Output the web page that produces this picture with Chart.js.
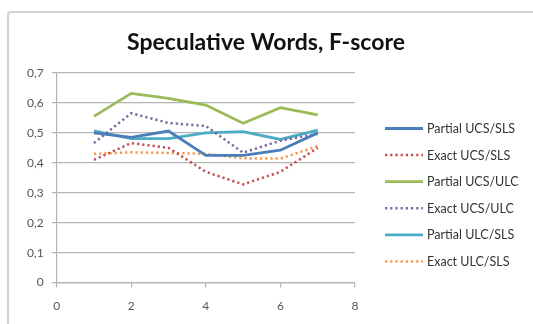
<!DOCTYPE html>
<html>
<head>
<meta charset="utf-8">
<script src="https://cdn.jsdelivr.net/npm/chart.js@4"></script>
<style>
  html, body { margin: 0; padding: 0; background: #fff; }
  #wrap { position: relative; width: 533px; height: 324px; overflow: hidden; }
  #frame { position: absolute; left: 7px; top: 11px; width: 600px; height: 400px;
           border: 2px solid #d4d4d4; border-radius: 4px; box-sizing: border-box; }
  canvas { position: absolute; left: 0; top: 0; }
</style>
</head>
<body>
<div id="wrap">
  <div id="frame"></div>
  <canvas id="c" width="533" height="324"></canvas>
</div>
<script>
const titleText = 'Speculative Words, F-score';
const xValues = [1, 2, 3, 4, 5, 6, 7];
const seriesNames = ['Partial UCS/SLS', 'Exact UCS/SLS', 'Partial UCS/ULC',
                     'Exact UCS/ULC', 'Partial ULC/SLS', 'Exact ULC/SLS'];
const partialUcsSls = [0.50, 0.485, 0.506, 0.425, 0.425, 0.442, 0.50];
const exactUcsSls   = [0.41, 0.466, 0.45, 0.37, 0.328, 0.37, 0.45];
const partialUcsUlc = [0.555, 0.632, 0.615, 0.593, 0.532, 0.584, 0.56];
const exactUcsUlc   = [0.466, 0.566, 0.533, 0.523, 0.434, 0.474, 0.497];
const partialUlcSls = [0.507, 0.481, 0.481, 0.50, 0.504, 0.478, 0.509];
const exactUlcSls   = [0.43, 0.435, 0.433, 0.43, 0.415, 0.414, 0.456];
const yTicks = [0, 0.1, 0.2, 0.3, 0.4, 0.5, 0.6, 0.7];
const xTicks = [0, 2, 4, 6, 8];

const seriesValues = [partialUcsSls, exactUcsSls, partialUcsUlc, exactUcsUlc, partialUlcSls, exactUlcSls];
const colors = ['#4a7ebb', '#c0504d', '#9bbb59', '#8064a2', '#4bacc6', '#f79646'];
const dotted = [false, true, false, true, false, true];

const datasets = seriesValues.map((vals, i) => ({
  label: seriesNames[i],
  data: vals.map((v, j) => ({ x: xValues[j], y: v })),
  borderColor: colors[i],
  backgroundColor: colors[i],
  borderWidth: dotted[i] ? 2.5 : 2.8,
  borderDash: dotted[i] ? [2.2, 3] : [],
  pointRadius: 0,
  tension: 0,
  fill: false
}));

const FONT = 'Lato, "Open Sans", sans-serif';

// Title and legend painted on the canvas after the chart
const decorations = {
  id: 'decorations',
  afterDraw(chart) {
    const ctx = chart.ctx;
    ctx.save();
    ctx.fillStyle = '#111';
    ctx.font = 'bold 23px ' + FONT;
    ctx.textAlign = 'center';
    ctx.textBaseline = 'middle';
    ctx.fillText(titleText, 266, 43);

    ctx.font = '12.5px ' + FONT;
    ctx.textAlign = 'left';
    chart.data.datasets.forEach((ds, i) => {
      const y = 128.5 + i * 26.6;
      ctx.beginPath();
      ctx.strokeStyle = ds.borderColor;
      ctx.lineWidth = ds.borderWidth;
      ctx.setLineDash(ds.borderDash);
      ctx.moveTo(385, y);
      ctx.lineTo(423, y);
      ctx.stroke();
      ctx.setLineDash([]);
      ctx.fillStyle = '#333';
      ctx.fillText(ds.label, 427, y + 0.5);
    });
    ctx.restore();
  }
};

new Chart(document.getElementById('c'), {
  type: 'line',
  data: { datasets },
  options: {
    responsive: false,
    animation: false,
    layout: { padding: { left: 19, top: 73, right: 178, bottom: 0 } },
    plugins: { legend: { display: false }, title: { display: false }, tooltip: { enabled: false } },
    scales: {
      x: {
        type: 'linear',
        min: 0, max: 8,
        afterBuildTicks: s => { s.ticks = xTicks.map(v => ({ value: v })); },
        ticks: { color: '#555', font: { size: 12, family: FONT }, padding: 11 },
        grid: { drawOnChartArea: false, drawTicks: true, tickLength: 5, color: '#b5b5b5', lineWidth: 1.2 },
        border: { color: '#b5b5b5', width: 1.2 }
      },
      y: {
        min: 0, max: 0.7,
        afterBuildTicks: s => { s.ticks = yTicks.map(v => ({ value: v })); },
        ticks: {
          color: '#555', font: { size: 12, family: FONT }, padding: 8,
          callback: v => v === 0 ? '0' : v.toFixed(1).replace('.', ',')
        },
        grid: { color: '#b5b5b5', lineWidth: 1.2, tickLength: 5 },
        border: { color: '#b5b5b5', width: 1.2 }
      }
    }
  },
  plugins: [decorations]
});
</script>
</body>
</html>
